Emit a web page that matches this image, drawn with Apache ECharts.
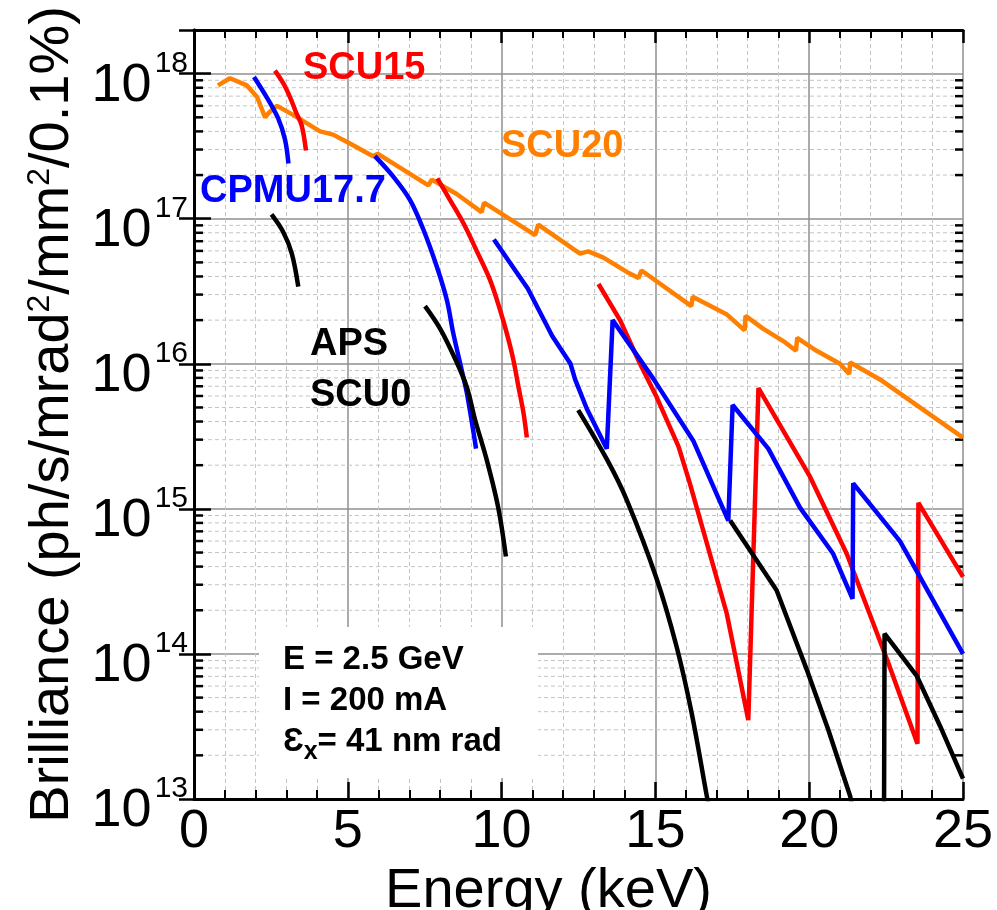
<!DOCTYPE html>
<html>
<head>
<meta charset="utf-8">
<title>Brilliance vs Energy</title>
<script src="https://cdn.jsdelivr.net/npm/echarts@6/dist/echarts.min.js"></script>
<style>
html, body { margin: 0; padding: 0; background: #fff; }
#main { width: 997px; height: 910px; }
</style>
</head>
<body>
<div id="main"></div>
<script>
// [energy keV, brilliance]
var scu20 = [[0.78, 8.3e17], [1.17, 9.3e17], [1.72, 8.3e17], [2.05, 6.9e17], [2.31, 5.0e17], [2.44, 5.4e17],
  [2.70, 6.0e17], [3.22, 5.2e17], [4.10, 4.0e17], [4.52, 3.8e17], [5.07, 3.3e17], [5.82, 2.7e17], [5.98, 2.8e17],
  [7.62, 1.7e17], [7.73, 1.86e17], [8.54, 1.48e17], [9.35, 1.11e17], [9.43, 1.29e17], [11.09, 7.7e16], [11.19, 9.1e16],
  [12.55, 5.75e16], [12.82, 5.95e16], [13.31, 5.4e16], [14.07, 4.3e16], [14.45, 3.9e16], [14.55, 4.4e16],
  [16.17, 2.5e16], [16.21, 2.9e16], [17.31, 2.2e16], [17.90, 1.7e16], [17.93, 2.14e16], [18.51, 1.74e16],
  [19.21, 1.41e16], [19.57, 1.23e16], [19.61, 1.51e16], [20.24, 1.23e16], [21.0, 1.0e16], [21.30, 8.5e15],
  [21.33, 1.02e16], [22.30, 7.8e15], [25.0, 3.1e15]];

var scu15a = [[2.63, 1.05e18], [2.9, 8.6e17], [3.12, 6.9e17], [3.32, 5.4e17], [3.5, 4.4e17], [3.64, 2.95e17]];
var scu15b = [[7.91, 1.9e17], [8.32, 1.35e17], [8.76, 9.3e16], [9.19, 6.0e16], [9.62, 3.8e16], [9.95, 2.35e16],
  [10.17, 1.62e16], [10.38, 1.07e16], [10.55, 6.9e15], [10.71, 4.6e15], [10.82, 3.1e15]];
var scu15c = [[13.15, 3.55e16], [13.85, 2.0e16], [14.5, 1.0e16], [15.04, 5.9e15], [15.75, 2.7e15], [16.12, 1.5e15],
  [17.32, 1.9e14], [18.02, 3.5e13], [18.35, 6.8e15], [20.03, 1.66e15], [21.22, 4.9e14], [22.57, 8.7e13],
  [23.52, 2.4e13], [23.55, 1.1e15], [25.0, 3.4e14]];

var cpmuA = [[1.95, 9.5e17], [2.36, 6.9e17], [2.74, 4.9e17], [2.96, 3.5e17], [3.07, 2.4e17]];
var cpmuB = [[5.88, 2.7e17], [6.48, 1.95e17], [7.02, 1.35e17], [7.45, 8.5e16], [7.89, 4.7e16], [8.22, 2.75e16],
  [8.43, 1.62e16], [8.70, 9.1e15], [8.87, 6.3e15], [9.17, 2.6e15]];
var cpmuC = [[9.75, 7.2e16], [10.85, 3.3e16], [11.65, 1.55e16], [12.24, 1.0e16], [12.39, 7.8e15], [12.77, 4.9e15],
  [13.42, 2.6e15], [13.61, 2.0e16], [14.93, 7.9e15], [16.23, 2.95e15], [17.37, 8.3e14], [17.51, 5.2e15],
  [18.67, 2.6e15], [19.70, 1.02e15], [20.78, 4.9e14], [21.41, 2.4e14], [21.43, 1.5e15], [22.95, 6.0e14], [25.0, 1.0e14]];

var apsA = [[2.52, 1.07e17], [2.9, 8.1e16], [3.18, 5.75e16], [3.39, 3.4e16]];
var apsB = [[7.51, 2.5e16], [8.0, 1.75e16], [8.5, 1.07e16], [8.87, 6.9e15], [9.14, 4.1e15], [9.51, 2.2e15],
  [9.89, 1.02e15], [10.14, 4.7e14]];
var apsC = [[12.49, 4.8e15], [13.42, 2.2e15], [14.07, 1.15e15], [15.04, 3.3e14], [15.69, 1.12e14],
  [16.18, 3.9e13], [16.67, 1.05e13], [16.75, 8.5e12]];
var apsD = [[17.43, 8.3e14], [18.94, 2.75e14], [19.92, 7.8e13], [20.62, 3.0e13], [21.33, 1.05e13], [21.4, 9e12]];
var apsE = [[22.43, 5e12], [22.45, 1.38e14], [23.49, 7.1e13], [24.25, 3.2e13], [25.0, 1.38e13]];

// smooth = curved pieces, straight = pieces with sharp steps
var curves = [
  { name: 'SCU20', color: '#ff8000', smooth: [], straight: [scu20] },
  { name: 'SCU15', color: '#ff0000', smooth: [scu15a, scu15b], straight: [scu15c] },
  { name: 'CPMU17.7', color: '#0000ff', smooth: [cpmuA, cpmuB], straight: [cpmuC] },
  { name: 'APS SCU0', color: '#000000', smooth: [apsA, apsB, apsC], straight: [apsD, apsE] }
];

var xMin = 0, xMax = 25, yMin = 1e13, yMax = 2e18;

// minor log grid values 2..9 x 10^n
var minorY = [];
for (var e = 13; e < 18; e++) {
  for (var m = 2; m <= 9; m++) minorY.push(m * Math.pow(10, e));
}

var FONT = 'Arial, "Liberation Sans", sans-serif';

function lineSeries(c, seg, smooth) {
  return {
    name: c.name,
    type: 'line',
    data: seg,
    smooth: smooth ? 0.35 : false,
    showSymbol: false,
    lineStyle: { color: c.color, width: 4.5 },
    itemStyle: { color: c.color },
    z: 3
  };
}

var series = [];
curves.forEach(function (c) {
  c.smooth.forEach(function (seg) { series.push(lineSeries(c, seg, true)); });
  c.straight.forEach(function (seg) { series.push(lineSeries(c, seg, false)); });
});

series.unshift({
  type: 'custom',
  coordinateSystem: 'cartesian2d',
  silent: true,
  z: 1,
  data: minorY.map(function (v) { return [xMin, v]; }),
  encode: { x: 0, y: 1 },
  renderItem: function (params, api) {
    var p0 = api.coord([xMin, api.value(1)]);
    var p1 = api.coord([xMax, api.value(1)]);
    return {
      type: 'group',
      children: [
        { type: 'line', shape: { x1: p0[0], y1: p0[1], x2: p1[0], y2: p1[1] },
          style: { stroke: '#c4c4c4', lineWidth: 1, lineDash: [4, 3] } },
        { type: 'line', shape: { x1: p0[0], y1: p0[1], x2: p0[0] + 9, y2: p0[1] },
          style: { stroke: '#000', lineWidth: 2.5 } },
        { type: 'line', shape: { x1: p1[0] - 8, y1: p1[1], x2: p1[0], y2: p1[1] },
          style: { stroke: '#000', lineWidth: 2.5 } }
      ]
    };
  }
});

var myChart = echarts.init(document.getElementById('main'));

var option = {
  animation: false,
  backgroundColor: '#fff',
  grid: { left: 194, right: 34, top: 30, bottom: 111, containLabel: false, outerBoundsMode: 'none' },
  xAxis: [{
    type: 'value', min: xMin, max: xMax, interval: 5,
    name: 'Energy (keV)', nameLocation: 'middle', nameGap: 43,
    nameTextStyle: { fontSize: 56, color: '#000', fontFamily: FONT, padding: [0, 60, 0, 0] },
    axisLine: { lineStyle: { color: '#000', width: 3 } },
    axisTick: { inside: true, length: 17, lineStyle: { color: '#000', width: 2.5 } },
    minorTick: { show: true, splitNumber: 5, length: 9, lineStyle: { color: '#000', width: 2 } },
    axisLabel: { fontSize: 54, color: '#000', fontFamily: FONT, margin: 6 },
    splitLine: { show: true, lineStyle: { color: '#8f8f8f', width: 1.5 } },
    minorSplitLine: { show: true, lineStyle: { color: '#c4c4c4', width: 1, type: [4, 3] } }
  }, {
    type: 'value', min: xMin, max: xMax, interval: 5, position: 'top',
    axisLine: { lineStyle: { color: '#000', width: 3 } },
    axisTick: { inside: true, length: 13, lineStyle: { color: '#000', width: 2.5 } },
    minorTick: { show: true, splitNumber: 5, length: 8, lineStyle: { color: '#000', width: 2 } },
    axisLabel: { show: false },
    splitLine: { show: false }
  }],
  yAxis: [{
    type: 'log', logBase: 10, min: yMin, max: yMax,
    name: 'Brilliance (ph/s/mrad{s|2}/mm{s|2}/0.1%)', nameLocation: 'middle', nameGap: 112,
    nameTextStyle: { fontSize: 56, color: '#000', fontFamily: FONT,
      rich: { s: { fontSize: 32, verticalAlign: 'top', fontFamily: FONT, color: '#000' } } },
    axisLine: { lineStyle: { color: '#000', width: 3 } },
    axisTick: { inside: true, length: 17, lineStyle: { color: '#000', width: 2.5 } },
    axisLabel: {
      margin: 6, padding: [14, 0, 0, 0],
      formatter: function (v) {
        var lg = Math.log10(v), r = Math.round(lg);
        return Math.abs(lg - r) < 1e-6 ? '{b|10}{s|' + r + '}' : '';
      },
      rich: {
        b: { fontSize: 54, color: '#000', fontFamily: FONT, padding: [10, 3, 0, 0], verticalAlign: 'bottom' },
        s: { fontSize: 30, color: '#000', fontFamily: FONT, verticalAlign: 'top' }
      }
    },
    splitLine: { show: true, lineStyle: { color: '#8f8f8f', width: 1.5 } }
  }, {
    type: 'log', logBase: 10, min: yMin, max: yMax, position: 'right',
    axisLine: { lineStyle: { color: '#000', width: 3 } },
    axisTick: { inside: true, length: 15, lineStyle: { color: '#000', width: 2.5 } },
    axisLabel: { show: false },
    splitLine: { show: false }
  }],
  graphic: {
    elements: [
      { type: 'rect', left: 259, top: 627, shape: { width: 279, height: 151 }, style: { fill: '#fff' }, z: 50 },
      { type: 'text', left: 283, top: 643, z: 51, style: { text: 'E = 2.5 GeV', fontSize: 33, fontWeight: 'bold', fill: '#000', fontFamily: FONT } },
      { type: 'text', left: 283, top: 684, z: 51, style: { text: 'I = 200 mA', fontSize: 33, fontWeight: 'bold', fill: '#000', fontFamily: FONT } },
      { type: 'text', left: 283, top: 725, z: 51, style: {
          text: '{a|\u0190}{x|x}{a|= 41 nm rad}', fill: '#000', fontFamily: FONT,
          rich: {
            a: { fontSize: 33, fontWeight: 'bold', fontFamily: FONT, verticalAlign: 'top', fill: '#000' },
            x: { fontSize: 25, fontWeight: 'bold', fontFamily: FONT, verticalAlign: 'top', padding: [15, 0, 0, 0], fill: '#000' }
          } } },
      { type: 'text', left: 303, top: 50, z: 51, style: { text: 'SCU15', fontSize: 38, fontWeight: 'bold', fill: '#ff0000', fontFamily: FONT } },
      { type: 'text', left: 501, top: 128, z: 51, style: { text: 'SCU20', fontSize: 38, fontWeight: 'bold', fill: '#ff8000', fontFamily: FONT } },
      { type: 'text', left: 200, top: 173, z: 51, style: { text: 'CPMU17.7', fontSize: 38, fontWeight: 'bold', fill: '#0000ff', fontFamily: FONT } },
      { type: 'text', left: 310, top: 326, z: 51, style: { text: 'APS', fontSize: 38, fontWeight: 'bold', fill: '#000', fontFamily: FONT } },
      { type: 'text', left: 310, top: 377, z: 51, style: { text: 'SCU0', fontSize: 38, fontWeight: 'bold', fill: '#000', fontFamily: FONT } }
    ]
  },
  series: series
};

myChart.setOption(option);
</script>
</body>
</html>
